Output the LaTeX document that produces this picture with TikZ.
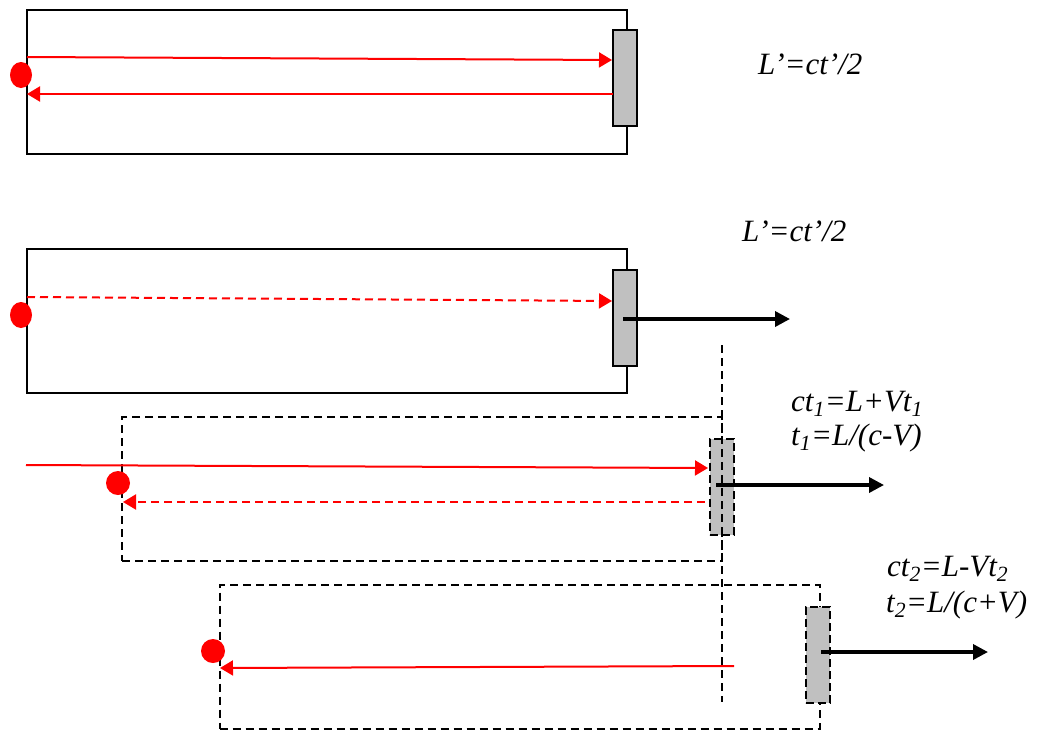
\documentclass[tikz,border=0pt]{standalone}
\usepackage{fontspec}
\setmainfont{Liberation Serif}
\usetikzlibrary{arrows.meta,shapes.geometric}
\definecolor{beam}{HTML}{FF0000}
\definecolor{glass}{HTML}{C0C0C0}
\tikzset{
  tube/.style  ={draw=black,line width=2pt,minimum width=600pt,minimum height=144pt,
                 inner sep=0pt},
  ghost/.style ={tube,dash pattern=on 8pt off 5pt},
  mirror/.style={draw=black,line width=2pt,fill=glass,minimum width=24pt,
                 minimum height=96pt,inner sep=0pt},
  ghostmirror/.style={mirror,dash pattern=on 8pt off 4pt},
  src/.style   ={ellipse,fill=beam,minimum width=22pt,minimum height=26pt,inner sep=0pt},
  srcb/.style  ={circle,fill=beam,minimum size=24pt,inner sep=0pt},
  ray/.style   ={-{Triangle[length=13pt,width=15pt]},line width=2pt,draw=beam},
  echo/.style  ={ray,dash pattern=on 8pt off 5pt},
  move/.style  ={-{Triangle[length=15pt,width=15pt]},line width=3.5pt,draw=black},
  formula/.style={font=\fontsize{31}{36}\selectfont\itshape,anchor=base west,inner sep=0pt}
}
\begin{document}
\begin{tikzpicture}[x=1pt,y=-1pt]
  \useasboundingbox (0,0) rectangle (1038,731);
  % rest frame
  \node[tube] (b1) at (327,81.5) {};
  \node[mirror] (m1) at (625,78) {};
  \node[src] (s1) at (21,75) {};
  \coordinate (r1a) at (27,57);  \coordinate (r1b) at (612,60);
  \coordinate (r1c) at (613,94); \coordinate (r1d) at (27,94);
  \draw[ray] (r1a) -- (r1b);
  \draw[ray] (r1c) -- (r1d);
  \node[formula] (f1) at (758,74) {L’=ct’/2};
  % moving frame
  \node[tube] (b2) at (327,321) {};
  \node[mirror] (m2) at (625,318) {};
  \node[src] (s2) at (21,315) {};
  \coordinate (r2a) at (27,297); \coordinate (r2b) at (612,301);
  \draw[echo] (r2a) -- (r2b);
  \coordinate (v2a) at (623,319); \coordinate (v2b) at (790,319);
  \draw[move] (v2a) -- (v2b);
  \node[formula] (f2) at (742,241) {L’=ct’/2};
  % forward trip
  \node[ghost] (b3) at (422,489) {};
  \node[mirror,draw=none] (m3) at (721.5,486.5) {};
  \node[srcb] (s3) at (118,483) {};
  \coordinate (r3a) at (26,465);  \coordinate (r3b) at (708,468);
  \coordinate (r3c) at (705,502); \coordinate (r3d) at (123,502);
  \draw[ray] (r3a) -- (r3b);
  \draw[echo] (r3c) -- (r3d);
  \node[formula] (f3) at (791,411) {ct\textsubscript{1}=L+Vt\textsubscript{1}};
  \node[formula] (f3b) at (791,445) {t\textsubscript{1}=L/(c-V)};
  % return trip
  \node[ghost] (b4) at (519.5,656.5) {};
  \node[ghostmirror] (m4) at (817.5,655) {};
  \node[srcb] (s4) at (213,651) {};
  \coordinate (r4a) at (734,666); \coordinate (r4b) at (220,668);
  \draw[ray] (r4a) -- (r4b);
  \node[formula] (f4) at (887,576) {ct\textsubscript{2}=L-Vt\textsubscript{2}};
  \node[formula] (f4b) at (886,612) {t\textsubscript{2}=L/(c+V)};
  % marker line
  \coordinate (k1) at (722,345); \coordinate (k2) at (722,702);
  \draw[line width=2pt,dash pattern=on 8pt off 5pt] (k1) -- (k2);
  \node[ghostmirror,fill=none] at (m3) {};
  \coordinate (v3a) at (716,485); \coordinate (v3b) at (884,485);
  \draw[move] (v3a) -- (v3b);
  \coordinate (v4a) at (821,652); \coordinate (v4b) at (988,652);
  \draw[move] (v4a) -- (v4b);
\end{tikzpicture}
\end{document}
